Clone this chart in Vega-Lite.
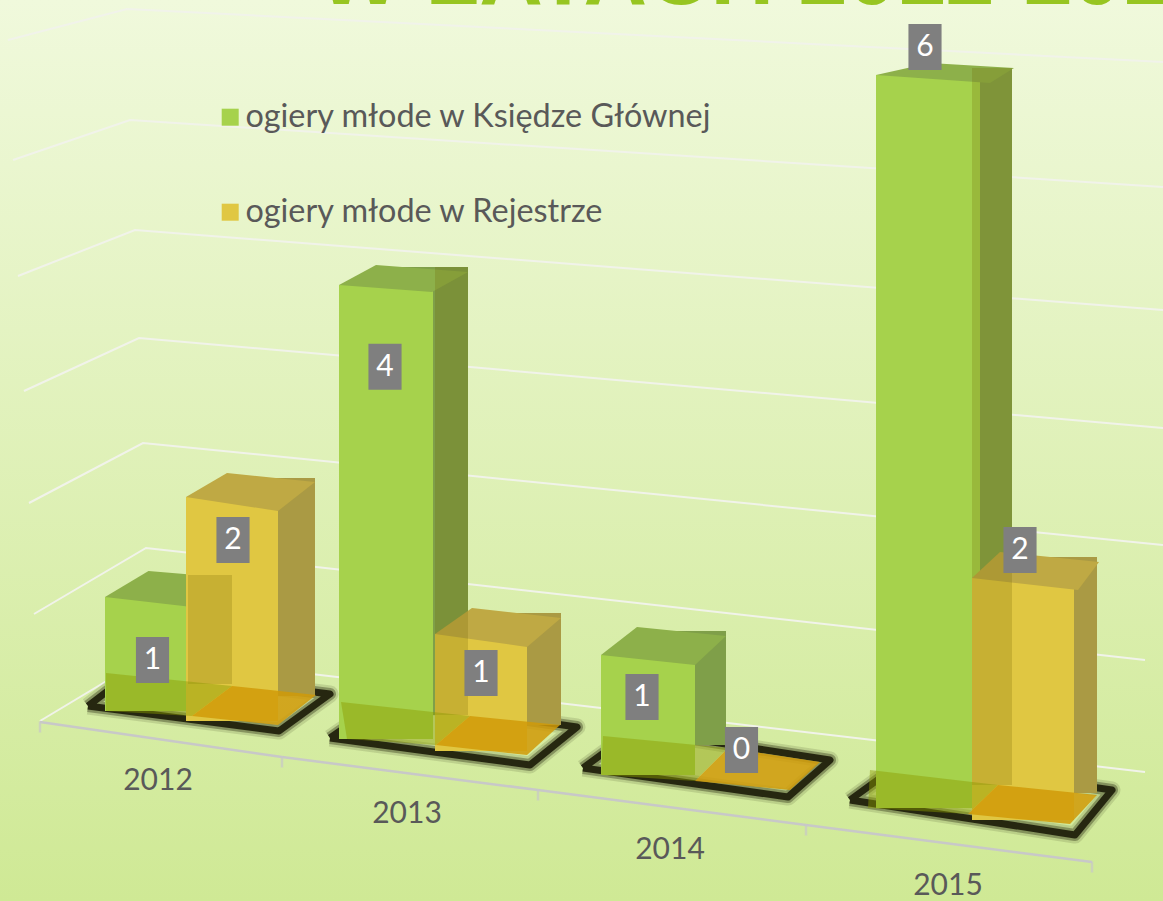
{"$schema":"https://vega.github.io/schema/vega-lite/v6.json","width":1163,"height":901,"autosize":{"type":"none"},"padding":0,"background":"#d8eeaa",
"view":{"stroke":null,"fill":{"gradient":"linear","x1":0,"y1":0,"x2":0,"y2":1,"stops":[{"offset":0,"color":"#f0f9dc"},{"offset":1,"color":"#cfe995"}]}},
"config":{"font":"Lato"},
"datasets":{
"bars":[{"year":2012,"series":"ogiery młode w Księdze Głównej","value":1},{"year":2012,"series":"ogiery młode w Rejestrze","value":2},{"year":2013,"series":"ogiery młode w Księdze Głównej","value":4},{"year":2013,"series":"ogiery młode w Rejestrze","value":1},{"year":2014,"series":"ogiery młode w Księdze Głównej","value":1},{"year":2014,"series":"ogiery młode w Rejestrze","value":0},{"year":2015,"series":"ogiery młode w Księdze Głównej","value":6},{"year":2015,"series":"ogiery młode w Rejestrze","value":2}],
"heading":[{"caption":"W LATACH 2012-2015"}],
"grid":[{"level":0,"node":1},{"level":0,"node":2},{"level":0,"node":3},{"level":1,"node":4},{"level":1,"node":5},{"level":1,"node":6},{"level":2,"node":7},{"level":2,"node":8},{"level":2,"node":9},{"level":3,"node":10},{"level":3,"node":11},{"level":3,"node":12},{"level":4,"node":13},{"level":4,"node":14},{"level":4,"node":15},{"level":5,"node":16},{"level":5,"node":17},{"level":5,"node":18},{"level":6,"node":19},{"level":6,"node":20},{"level":6,"node":21}],
"plates":[{"year":2012,"node":1},{"year":2012,"node":2},{"year":2012,"node":3},{"year":2012,"node":4},{"year":2012,"node":5},{"year":2013,"node":6},{"year":2013,"node":7},{"year":2013,"node":8},{"year":2013,"node":9},{"year":2013,"node":10},{"year":2014,"node":11},{"year":2014,"node":12},{"year":2014,"node":13},{"year":2014,"node":14},{"year":2014,"node":15},{"year":2015,"node":16},{"year":2015,"node":17},{"year":2015,"node":18},{"year":2015,"node":19},{"year":2015,"node":20}],
"floorsG":[{"year":2012,"node":1},{"year":2012,"node":2},{"year":2012,"node":3},{"year":2012,"node":4},{"year":2013,"node":5},{"year":2013,"node":6},{"year":2013,"node":7},{"year":2013,"node":8},{"year":2014,"node":9},{"year":2014,"node":10},{"year":2014,"node":11},{"year":2014,"node":12},{"year":2015,"node":13},{"year":2015,"node":14},{"year":2015,"node":15},{"year":2015,"node":16}],
"years":[{"year":2012},{"year":2013},{"year":2014},{"year":2015}],
"ticks":[{"boundary":0},{"boundary":1},{"boundary":2},{"boundary":3},{"boundary":4}]
},
"data":{"name":"bars"},
"resolve":{"scale":{"x":"independent","y":"independent"}},
"layer":[
{"data":{"name":"heading"},"mark":{"type":"text","align":"left","baseline":"alphabetic","fontSize":88,"font":"Liberation Sans","fontWeight":"bold","color":"#97c521"},"encoding":{"text":{"field":"caption"},"x":{"field":"caption","type":"nominal","axis":null,"scale":{"type":"band","paddingInner":0,"paddingOuter":0,"range":[316,320]}},"y":{"field":"caption","type":"nominal","axis":null,"scale":{"type":"band","paddingInner":0,"paddingOuter":0,"range":[2,6]}}}},
{"data":{"name":"grid"},"mark":{"type":"line","color":"#f1f3ea","strokeWidth":2},"encoding":{"detail":{"field":"level"},"order":{"field":"node"},"x":{"field":"node","type":"quantitative","axis":null,"scale":{"nice":false,"zero":false,"domain":[1,2,3,4,5,6,7,8,9,10,11,12,13,14,15,16,17,18,19,20,21],"range":[40,150,1145,34,146,1145,29,143,1163,24,139,1163,18,135,1163,13,130,1163,8,127,1163]}},"y":{"field":"node","type":"quantitative","axis":null,"scale":{"nice":false,"zero":false,"domain":[1,2,3,4,5,6,7,8,9,10,11,12,13,14,15,16,17,18,19,20,21],"range":[721,655,772,614,548,660,503,443,545,391,338,428,276,230,310,160,120,187,40,9,62]}}}},
{"data":{"name":"ticks"},"mark":{"type":"line","color":"#c8c8c8","strokeWidth":2.5},"encoding":{"x":{"field":"boundary","type":"quantitative","axis":null,"scale":{"nice":false,"zero":false,"domain":[0,1,2,3,4],"range":[40,282,538,806,1092]}},"y":{"field":"boundary","type":"quantitative","axis":null,"scale":{"nice":false,"zero":false,"domain":[0,1,2,3,4],"range":[722,757,790,825,862]}}}},
{"data":{"name":"ticks"},"mark":{"type":"tick","color":"#c8c8c8","orient":"vertical","size":11,"thickness":2.5,"yOffset":5},"encoding":{"x":{"field":"boundary","type":"quantitative","axis":null,"scale":{"nice":false,"zero":false,"domain":[0,1,2,3,4],"range":[40,282,538,806,1092]}},"y":{"field":"boundary","type":"quantitative","axis":null,"scale":{"nice":false,"zero":false,"domain":[0,1,2,3,4],"range":[722,757,790,825,862]}}}},
{"data":{"name":"plates"},"mark":{"type":"line","color":"#20200a","strokeWidth":17,"opacity":0.13,"strokeJoin":"round"},"encoding":{"detail":{"field":"year"},"order":{"field":"node"},"x":{"field":"node","type":"quantitative","axis":null,"scale":{"nice":false,"zero":false,"domain":[1,2,3,4,5,6,7,8,9,10,11,12,13,14,15,16,17,18,19,20],"range":[88,279,330,135,88,330,530,577,385,330,583,788,830,635,583,850,1075,1112,905,850]}},"y":{"field":"node","type":"quantitative","axis":null,"scale":{"nice":false,"zero":false,"domain":[1,2,3,4,5,6,7,8,9,10,11,12,13,14,15,16,17,18,19,20],"range":[706,731,694,670,706,738,765,727,700,738,768,797,760,730,768,800,835,790,760,800]}}}},
{"data":{"name":"plates"},"mark":{"type":"line","color":"#20200a","strokeWidth":12,"opacity":0.35,"strokeJoin":"round"},"encoding":{"detail":{"field":"year"},"order":{"field":"node"},"x":{"field":"node","type":"quantitative","axis":null,"scale":{"nice":false,"zero":false,"domain":[1,2,3,4,5,6,7,8,9,10,11,12,13,14,15,16,17,18,19,20],"range":[88,279,330,135,88,330,530,577,385,330,583,788,830,635,583,850,1075,1112,905,850]}},"y":{"field":"node","type":"quantitative","axis":null,"scale":{"nice":false,"zero":false,"domain":[1,2,3,4,5,6,7,8,9,10,11,12,13,14,15,16,17,18,19,20],"range":[706,731,694,670,706,738,765,727,700,738,768,797,760,730,768,800,835,790,760,800]}}}},
{"data":{"name":"plates"},"mark":{"type":"line","color":"#1c1c08","strokeWidth":7,"opacity":0.9,"strokeJoin":"round"},"encoding":{"detail":{"field":"year"},"order":{"field":"node"},"x":{"field":"node","type":"quantitative","axis":null,"scale":{"nice":false,"zero":false,"domain":[1,2,3,4,5,6,7,8,9,10,11,12,13,14,15,16,17,18,19,20],"range":[88,279,330,135,88,330,530,577,385,330,583,788,830,635,583,850,1075,1112,905,850]}},"y":{"field":"node","type":"quantitative","axis":null,"scale":{"nice":false,"zero":false,"domain":[1,2,3,4,5,6,7,8,9,10,11,12,13,14,15,16,17,18,19,20],"range":[706,731,694,670,706,738,765,727,700,738,768,797,760,730,768,800,835,790,760,800]}}}},

{"transform":[{"filter":"datum.year==2012&&datum.value==1"}],"mark":{"type":"bar","color":"#7f9f49"},"encoding":{"x":{"field":"year","type":"nominal","axis":null,"scale":{"type":"band","paddingInner":0,"paddingOuter":0,"range":[146,232]}},"y":{"field":"value","type":"quantitative","axis":null,"scale":{"domain":[0,6],"range":[684,30]}}}},
{"transform":[{"filter":"datum.year==2012&&datum.value==1"}],"encoding":{"x":{"field":"year","type":"nominal","axis":null,"scale":{"type":"band","paddingInner":0,"paddingOuter":0,"range":[105,192]}},"y":{"field":"value","type":"quantitative","axis":null,"scale":{"domain":[0,6],"range":[711,27]}}},"layer":[{"mark":{"type":"bar"},"encoding":{"color":{"field":"series","type":"nominal","scale":{"domain":["ogiery młode w Księdze Głównej","ogiery młode w Rejestrze"],"range":["#a6d24c","#e0c742"]},"legend":{"title":null,"orient":"none","legendX":214,"legendY":101,"symbolType":"square","symbolSize":289,"symbolOpacity":1,"labelFontSize":32.4,"labelColor":"#595959","labelFont":"Lato","labelLimit":600,"labelOffset":-1,"rowPadding":62,"symbolStrokeWidth":0}}}},{"mark":{"type":"point","filled":true,"opacity":1,"color":"#8db04a","size":4,"shape":"M-43.5,0L43.5,10L83.5,-19L0,-26Z"}}]},
{"transform":[{"filter":"datum.year==2012&&datum.value==2"}],"mark":{"type":"bar","color":"#aa9a44"},"encoding":{"x":{"field":"year","type":"nominal","axis":null,"scale":{"type":"band","paddingInner":0,"paddingOuter":0,"range":[227,315]}},"y":{"field":"value","type":"quantitative","axis":null,"scale":{"domain":[0,6],"range":[696,42]}}}},
{"transform":[{"filter":"datum.year==2012&&datum.value==2"}],"encoding":{"x":{"field":"year","type":"nominal","axis":null,"scale":{"type":"band","paddingInner":0,"paddingOuter":0,"range":[186,278]}},"y":{"field":"value","type":"quantitative","axis":null,"scale":{"domain":[0,6],"range":[721,49]}}},"layer":[{"mark":{"type":"bar"},"encoding":{"color":{"field":"series","type":"nominal"}}},{"mark":{"type":"point","filled":true,"opacity":1,"color":"#bfa944","size":4,"shape":"M-46,0L46,14L83,-15L-5,-24Z"}}]},
{"transform":[{"filter":"datum.year==2012&&datum.value==1"}],"mark":{"type":"bar","color":"#6e6000","opacity":0.22},"encoding":{"x":{"field":"year","type":"nominal","axis":null,"scale":{"type":"band","paddingInner":0,"paddingOuter":0,"range":[188,232]}},"y":{"field":"value","type":"quantitative","axis":null,"scale":{"domain":[0,6],"range":[684,30]}}}},

{"transform":[{"filter":"datum.year==2013&&datum.value==4"}],"mark":{"type":"bar","color":"#7f9f49"},"encoding":{"x":{"field":"year","type":"nominal","axis":null,"scale":{"type":"band","paddingInner":0,"paddingOuter":0,"range":[376,468]}},"y":{"field":"value","type":"quantitative","axis":null,"scale":{"domain":[0,6],"range":[715,43]}}}},
{"transform":[{"filter":"datum.year==2013&&datum.value==4"}],"encoding":{"x":{"field":"year","type":"nominal","axis":null,"scale":{"type":"band","paddingInner":0,"paddingOuter":0,"range":[339,433]}},"y":{"field":"value","type":"quantitative","axis":null,"scale":{"domain":[0,6],"range":[739,58]}}},"layer":[{"mark":{"type":"bar"},"encoding":{"color":{"field":"series","type":"nominal"}}},{"mark":{"type":"point","filled":true,"opacity":1,"color":"#8db04a","size":4,"shape":"M-47,0L46,7L82,-13L-10,-20Z"}}]},
{"transform":[{"filter":"datum.year==2013&&datum.value==1"}],"mark":{"type":"bar","color":"#aa9a44"},"encoding":{"x":{"field":"year","type":"nominal","axis":null,"scale":{"type":"band","paddingInner":0,"paddingOuter":0,"range":[472,561]}},"y":{"field":"value","type":"quantitative","axis":null,"scale":{"domain":[0,6],"range":[725,53]}}}},
{"transform":[{"filter":"datum.year==2013&&datum.value==1"}],"encoding":{"x":{"field":"year","type":"nominal","axis":null,"scale":{"type":"band","paddingInner":0,"paddingOuter":0,"range":[435,527]}},"y":{"field":"value","type":"quantitative","axis":null,"scale":{"domain":[0,6],"range":[751,49]}}},"layer":[{"mark":{"type":"bar"},"encoding":{"color":{"field":"series","type":"nominal"}}},{"mark":{"type":"point","filled":true,"opacity":1,"color":"#bfa944","size":4,"shape":"M-46,0L46,13L80,-16L-9,-26Z"}}]},

{"transform":[{"filter":"datum.year==2014&&datum.value==1"}],"mark":{"type":"bar","color":"#7f9f49"},"encoding":{"x":{"field":"year","type":"nominal","axis":null,"scale":{"type":"band","paddingInner":0,"paddingOuter":0,"range":[637,726]}},"y":{"field":"value","type":"quantitative","axis":null,"scale":{"domain":[0,6],"range":[745,61]}}}},
{"transform":[{"filter":"datum.year==2014&&datum.value==1"}],"encoding":{"x":{"field":"year","type":"nominal","axis":null,"scale":{"type":"band","paddingInner":0,"paddingOuter":0,"range":[601,695]}},"y":{"field":"value","type":"quantitative","axis":null,"scale":{"domain":[0,6],"range":[775,55]}}},"layer":[{"mark":{"type":"bar"},"encoding":{"color":{"field":"series","type":"nominal"}}},{"mark":{"type":"point","filled":true,"opacity":1,"color":"#8db04a","size":4,"shape":"M-47,0L47,10L78,-19L-11,-28Z"}}]},

{"transform":[{"filter":"datum.year==2015&&datum.value==6"}],"mark":{"type":"bar","color":"#84a34a"},"encoding":{"x":{"field":"year","type":"nominal","axis":null,"scale":{"type":"band","paddingInner":0,"paddingOuter":0,"range":[910,1012]}},"y":{"field":"value","type":"quantitative","axis":null,"scale":{"domain":[0,6],"range":[785,68]}}}},
{"transform":[{"filter":"datum.year==2015&&datum.value==6"}],"encoding":{"x":{"field":"year","type":"nominal","axis":null,"scale":{"type":"band","paddingInner":0,"paddingOuter":0,"range":[876,980]}},"y":{"field":"value","type":"quantitative","axis":null,"scale":{"domain":[0,6],"range":[808,75]}}},"layer":[{"mark":{"type":"bar"},"encoding":{"color":{"field":"series","type":"nominal"}}},{"mark":{"type":"point","filled":true,"opacity":1,"color":"#8db04a","size":4,"shape":"M-52,0L62,8L86,-7L2,-12Z"}}]},
{"transform":[{"filter":"datum.year==2015&&datum.value==2"}],"mark":{"type":"bar","color":"#aa9a44"},"encoding":{"x":{"field":"year","type":"nominal","axis":null,"scale":{"type":"band","paddingInner":0,"paddingOuter":0,"range":[1000,1097]}},"y":{"field":"value","type":"quantitative","axis":null,"scale":{"domain":[0,6],"range":[793,85]}}}},
{"transform":[{"filter":"datum.year==2015&&datum.value==2"}],"encoding":{"x":{"field":"year","type":"nominal","axis":null,"scale":{"type":"band","paddingInner":0,"paddingOuter":0,"range":[972,1074]}},"y":{"field":"value","type":"quantitative","axis":null,"scale":{"domain":[0,6],"range":[820,94]}}},"layer":[{"mark":{"type":"bar"},"encoding":{"color":{"field":"series","type":"nominal"}}},{"mark":{"type":"point","filled":true,"opacity":1,"color":"#bfa944","size":4,"shape":"M-51,0L55,12L76,-16L-23,-26Z"}}]},

{"transform":[{"filter":"datum.year==2013&&datum.value==4"}],"mark":{"type":"bar","color":"#6e6000","opacity":0.22},"encoding":{"x":{"field":"year","type":"nominal","axis":null,"scale":{"type":"band","paddingInner":0,"paddingOuter":0,"range":[435,468]}},"y":{"field":"value","type":"quantitative","axis":null,"scale":{"domain":[0,6],"range":[715,43]}}}},
{"transform":[{"filter":"datum.year==2015&&datum.value==6"}],"mark":{"type":"bar","color":"#6e6000","opacity":0.22},"encoding":{"x":{"field":"year","type":"nominal","axis":null,"scale":{"type":"band","paddingInner":0,"paddingOuter":0,"range":[972,1012]}},"y":{"field":"value","type":"quantitative","axis":null,"scale":{"domain":[0,6],"range":[785,68]}}}},

{"data":{"name":"floorsG"},"mark":{"type":"line","strokeWidth":0,"fill":"#8c9c00","fillOpacity":0.45},"encoding":{"detail":{"field":"year"},"order":{"field":"node"},"x":{"field":"node","type":"quantitative","axis":null,"scale":{"nice":false,"zero":false,"domain":[1,2,3,4,5,6,7,8,9,10,11,12,13,14,15,16],"range":[106,192,232,106,347,436,470,341,601,695,728,603,868,968,998,870]}},"y":{"field":"node","type":"quantitative","axis":null,"scale":{"nice":false,"zero":false,"domain":[1,2,3,4,5,6,7,8,9,10,11,12,13,14,15,16],"range":[711,716,686,673,739,745,716,702,775,781,748,736,808,814,785,770]}}}},
{"data":{"name":"floorsG"},"mark":{"type":"line","strokeWidth":0,"fill":"#d09a08","fillOpacity":0.85},"encoding":{"detail":{"field":"year"},"order":{"field":"node"},"x":{"field":"node","type":"quantitative","axis":null,"scale":{"nice":false,"zero":false,"domain":[1,2,3,4,5,6,7,8,9,10,11,12,13,14,15,16],"range":[192,278,316,232,436,527,560,470,695,790,820,728,968,1070,1097,998]}},"y":{"field":"node","type":"quantitative","axis":null,"scale":{"nice":false,"zero":false,"domain":[1,2,3,4,5,6,7,8,9,10,11,12,13,14,15,16],"range":[716,725,695,686,745,755,725,716,781,790,762,748,814,824,795,785]}}}},

{"transform":[{"filter":"datum.year==2012&&datum.value==1"}],"encoding":{"x":{"field":"year","type":"nominal","axis":null,"scale":{"type":"band","paddingInner":0,"paddingOuter":0,"range":[105,192]}},"y":{"field":"value","type":"quantitative","axis":null,"scale":{"domain":[0,6],"range":[711,57]}},"text":{"field":"value"}},"layer":[{"mark":{"type":"point","filled":true,"opacity":1,"color":"#7f7f7f","size":2116,"shape":"M-0.72,-1H0.72V1H-0.72Z","xOffset":4,"yOffset":58}},{"mark":{"type":"text","color":"#ffffff","fontSize":30,"baseline":"middle","xOffset":4,"yOffset":58}}]},
{"transform":[{"filter":"datum.year==2012&&datum.value==2"}],"encoding":{"x":{"field":"year","type":"nominal","axis":null,"scale":{"type":"band","paddingInner":0,"paddingOuter":0,"range":[186,278]}},"y":{"field":"value","type":"quantitative","axis":null,"scale":{"domain":[0,6],"range":[721,70]}},"text":{"field":"value"}},"layer":[{"mark":{"type":"point","filled":true,"opacity":1,"color":"#7f7f7f","size":2116,"shape":"M-0.72,-1H0.72V1H-0.72Z","xOffset":1,"yOffset":36}},{"mark":{"type":"text","color":"#ffffff","fontSize":30,"baseline":"middle","xOffset":1,"yOffset":36}}]},
{"transform":[{"filter":"datum.year==2013&&datum.value==4"}],"encoding":{"x":{"field":"year","type":"nominal","axis":null,"scale":{"type":"band","paddingInner":0,"paddingOuter":0,"range":[339,433]}},"y":{"field":"value","type":"quantitative","axis":null,"scale":{"domain":[0,6],"range":[739,62]}},"text":{"field":"value"}},"layer":[{"mark":{"type":"point","filled":true,"opacity":1,"color":"#7f7f7f","size":2116,"shape":"M-0.72,-1H0.72V1H-0.72Z","xOffset":-1,"yOffset":79}},{"mark":{"type":"text","color":"#ffffff","fontSize":30,"baseline":"middle","xOffset":-1,"yOffset":79}}]},
{"transform":[{"filter":"datum.year==2013&&datum.value==1"}],"encoding":{"x":{"field":"year","type":"nominal","axis":null,"scale":{"type":"band","paddingInner":0,"paddingOuter":0,"range":[435,527]}},"y":{"field":"value","type":"quantitative","axis":null,"scale":{"domain":[0,6],"range":[751,85]}},"text":{"field":"value"}},"layer":[{"mark":{"type":"point","filled":true,"opacity":1,"color":"#7f7f7f","size":2116,"shape":"M-0.72,-1H0.72V1H-0.72Z","xOffset":0,"yOffset":33}},{"mark":{"type":"text","color":"#ffffff","fontSize":30,"baseline":"middle","xOffset":0,"yOffset":33}}]},
{"transform":[{"filter":"datum.year==2014&&datum.value==1"}],"encoding":{"x":{"field":"year","type":"nominal","axis":null,"scale":{"type":"band","paddingInner":0,"paddingOuter":0,"range":[601,695]}},"y":{"field":"value","type":"quantitative","axis":null,"scale":{"domain":[0,6],"range":[775,85]}},"text":{"field":"value"}},"layer":[{"mark":{"type":"point","filled":true,"opacity":1,"color":"#7f7f7f","size":2116,"shape":"M-0.72,-1H0.72V1H-0.72Z","xOffset":-6,"yOffset":37}},{"mark":{"type":"text","color":"#ffffff","fontSize":30,"baseline":"middle","xOffset":-6,"yOffset":37}}]},
{"transform":[{"filter":"datum.year==2014&&datum.value==0"}],"encoding":{"x":{"field":"year","type":"nominal","axis":null,"scale":{"type":"band","paddingInner":0,"paddingOuter":0,"range":[695,790]}},"y":{"field":"value","type":"quantitative","axis":null,"scale":{"domain":[0,6],"range":[786,96]}},"text":{"field":"value"}},"layer":[{"mark":{"type":"point","filled":true,"opacity":1,"color":"#7f7f7f","size":2116,"shape":"M-0.72,-1H0.72V1H-0.72Z","xOffset":-1,"yOffset":-36}},{"mark":{"type":"text","color":"#ffffff","fontSize":30,"baseline":"middle","xOffset":-1,"yOffset":-36}}]},
{"transform":[{"filter":"datum.year==2015&&datum.value==6"}],"encoding":{"x":{"field":"year","type":"nominal","axis":null,"scale":{"type":"band","paddingInner":0,"paddingOuter":0,"range":[876,980]}},"y":{"field":"value","type":"quantitative","axis":null,"scale":{"domain":[0,6],"range":[808,80]}},"text":{"field":"value"}},"layer":[{"mark":{"type":"point","filled":true,"opacity":1,"color":"#7f7f7f","size":2116,"shape":"M-0.72,-1H0.72V1H-0.72Z","xOffset":-3,"yOffset":-33}},{"mark":{"type":"text","color":"#ffffff","fontSize":30,"baseline":"middle","xOffset":-3,"yOffset":-33}}]},
{"transform":[{"filter":"datum.year==2015&&datum.value==2"}],"encoding":{"x":{"field":"year","type":"nominal","axis":null,"scale":{"type":"band","paddingInner":0,"paddingOuter":0,"range":[972,1074]}},"y":{"field":"value","type":"quantitative","axis":null,"scale":{"domain":[0,6],"range":[820,112]}},"text":{"field":"value"}},"layer":[{"mark":{"type":"point","filled":true,"opacity":1,"color":"#7f7f7f","size":2116,"shape":"M-0.72,-1H0.72V1H-0.72Z","xOffset":-3,"yOffset":-34}},{"mark":{"type":"text","color":"#ffffff","fontSize":30,"baseline":"middle","xOffset":-3,"yOffset":-34}}]},

{"data":{"name":"years"},"mark":{"type":"text","color":"#595959","fontSize":30,"baseline":"middle"},"encoding":{"text":{"field":"year"},"x":{"field":"year","type":"quantitative","axis":null,"scale":{"nice":false,"zero":false,"domain":[2012,2013,2014,2015],"range":[158,407,670,948]}},"y":{"field":"year","type":"quantitative","axis":null,"scale":{"nice":false,"zero":false,"domain":[2012,2013,2014,2015],"range":[781,814,850,886]}}}}
]}
